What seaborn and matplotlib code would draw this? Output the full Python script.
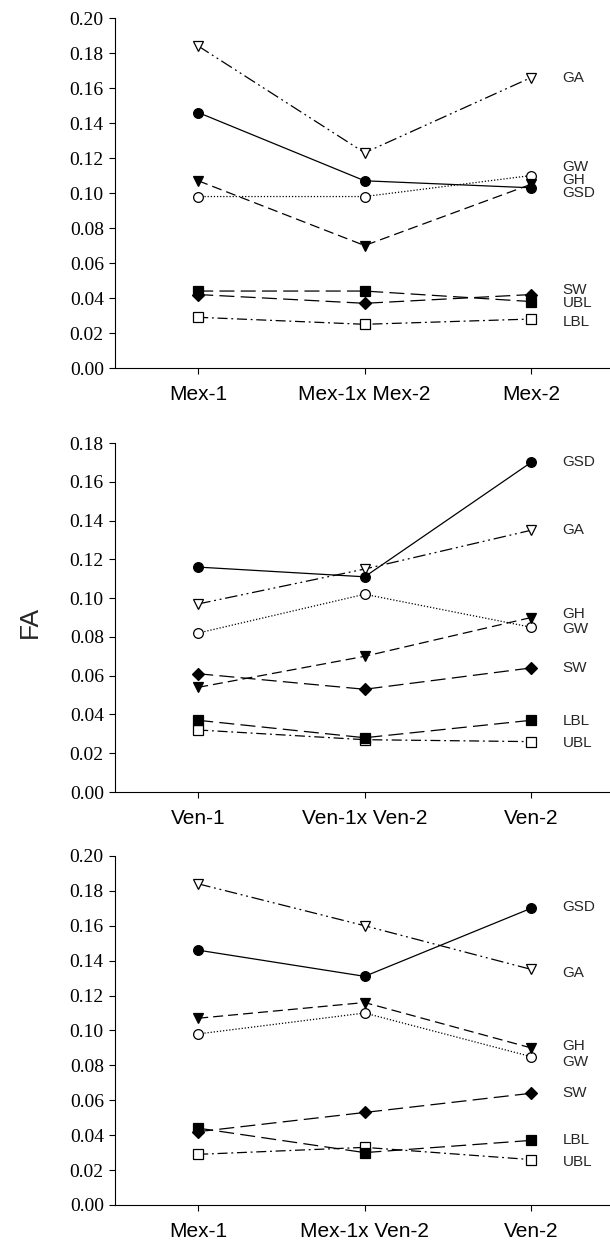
import matplotlib
matplotlib.use("Agg")
import matplotlib.pyplot as plt
import seaborn as sns
import pandas as pd

# Data (FA per trait and cross)
traits = ["GA", "GSD", "GW", "GH", "SW", "UBL", "LBL"]

crosses_mex = ["Mex-1", "Mex-1x Mex-2", "Mex-2"]
mex_ga = [0.184, 0.123, 0.166]
mex_gsd = [0.146, 0.107, 0.103]
mex_gw = [0.098, 0.098, 0.110]
mex_gh = [0.107, 0.070, 0.105]
mex_sw = [0.042, 0.037, 0.042]
mex_ubl = [0.044, 0.044, 0.038]
mex_lbl = [0.029, 0.025, 0.028]
mex_label_y = [0.166, 0.100, 0.115, 0.1075, 0.0446, 0.0371, 0.0263]

crosses_ven = ["Ven-1", "Ven-1x Ven-2", "Ven-2"]
ven_ga = [0.097, 0.115, 0.135]
ven_gsd = [0.116, 0.111, 0.170]
ven_gw = [0.082, 0.102, 0.085]
ven_gh = [0.054, 0.070, 0.090]
ven_sw = [0.061, 0.053, 0.064]
ven_lbl = [0.037, 0.028, 0.037]
ven_ubl = [0.032, 0.027, 0.026]
ven_label_y = [0.135, 0.170, 0.084, 0.092, 0.064, 0.0253, 0.0367]

crosses_mv = ["Mex-1", "Mex-1x Ven-2", "Ven-2"]
mv_ga = [0.184, 0.160, 0.135]
mv_gsd = [0.146, 0.131, 0.170]
mv_gw = [0.098, 0.110, 0.085]
mv_gh = [0.107, 0.116, 0.090]
mv_sw = [0.042, 0.053, 0.064]
mv_lbl = [0.044, 0.030, 0.037]
mv_ubl = [0.029, 0.033, 0.026]
mv_label_y = [0.133, 0.171, 0.082, 0.091, 0.064, 0.0246, 0.037]

# marker / line style per trait
styles = {
    "GA":  dict(marker="v", mfc="white", ls=(0, (10, 3, 1.5, 3, 1.5, 3))),
    "GSD": dict(marker="o", mfc="black", ls="-"),
    "GW":  dict(marker="o", mfc="white", ls=(0, (1, 1.5))),
    "GH":  dict(marker="v", mfc="black", ls=(0, (8, 4))),
    "SW":  dict(marker="D", mfc="black", ls=(0, (12, 5))),
    "UBL": dict(marker="s", mfc="black", ls=(0, (12, 5))),
    "LBL": dict(marker="s", mfc="white", ls=(0, (8, 3, 1.5, 3))),
}
# in the Ven panels the filled/open squares swap their labels
styles_ven = dict(styles)
styles_ven["UBL"] = styles["LBL"]
styles_ven["LBL"] = styles["UBL"]

panels = [
    (crosses_mex, [mex_ga, mex_gsd, mex_gw, mex_gh, mex_sw, mex_ubl, mex_lbl], mex_label_y, 0.20, styles),
    (crosses_ven, [ven_ga, ven_gsd, ven_gw, ven_gh, ven_sw, ven_ubl, ven_lbl], ven_label_y, 0.18, styles_ven),
    (crosses_mv, [mv_ga, mv_gsd, mv_gw, mv_gh, mv_sw, mv_ubl, mv_lbl], mv_label_y, 0.20, styles_ven),
]

sns.set_style("ticks")
plt.rcParams["font.family"] = ["Liberation Sans", "DejaVu Sans"]

fig = plt.figure(figsize=(6.1, 12.43), dpi=100)
boxes = [
    [0.1885, 0.7039, 0.8115, 0.2816],
    [0.1885, 0.3628, 0.8115, 0.2808],
    [0.1885, 0.0306, 0.8115, 0.2808],
]

for box, (crosses, series, label_y, ymax, sty) in zip(boxes, panels):
    ax = fig.add_axes(box)
    for trait, vals in zip(traits, series):
        df = pd.DataFrame({"cross": crosses, "FA": vals})
        st = sty[trait]
        sns.lineplot(data=df, x="cross", y="FA", ax=ax, color="black",
                     linewidth=0.9, linestyle=st["ls"], marker=st["marker"],
                     markersize=7 if st["marker"] != "D" else 6,
                     markerfacecolor=st["mfc"], markeredgecolor="black",
                     markeredgewidth=0.9, sort=False)
    for trait, ly in zip(traits, label_y):
        ax.text(2.19, ly, trait, fontsize=11, ha="left", va="center",
                family=["Liberation Sans", "DejaVu Sans"])
    ax.set_xlim(-0.5, 2.474)
    ax.set_ylim(0, ymax)
    yt = [i * 0.02 for i in range(int(round(ymax / 0.02)) + 1)]
    ax.set_yticks(yt, labels=[f"{v:.2f}" for v in yt],
                  fontfamily=["Liberation Serif", "DejaVu Serif"], fontsize=14)
    ax.tick_params(axis="x", labelsize=15, length=4, width=0.8, pad=8, colors="black")
    ax.tick_params(axis="y", length=4, width=0.8, pad=4, colors="black")
    ax.set_xlabel("")
    ax.set_ylabel("")
    sns.despine(ax=ax)
    for sp in ["left", "bottom"]:
        ax.spines[sp].set_linewidth(0.8)
        ax.spines[sp].set_color("black")

fig.text(0.049, 0.5, "FA", rotation=90, fontsize=19, ha="center", va="center")

fig.savefig("out.png", dpi=100)
